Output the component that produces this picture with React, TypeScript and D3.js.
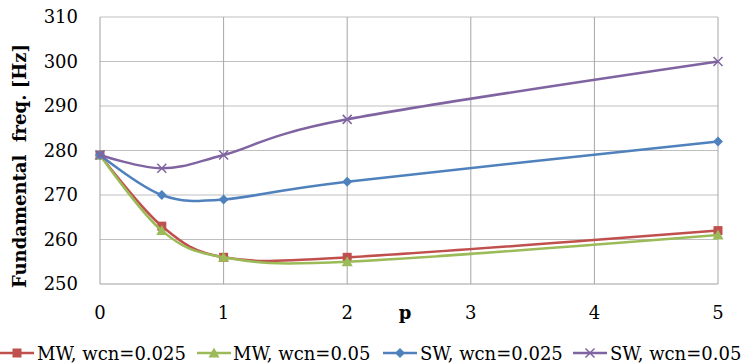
import React from "react";
import * as d3 from "d3";

const pValues = [0, 0.5, 1, 2, 5];
const mw025 = [279, 263, 256, 256, 262];
const mw05 = [279, 262, 256, 255, 261];
const sw025 = [279, 270, 269, 273, 282];
const sw05 = [279, 276, 279, 287, 300];
const seriesNames = ["MW, wcn=0.025", "MW, wcn=0.05", "SW, wcn=0.025", "SW, wcn=0.05"];
const xTicks = [0, 1, 2, 3, 4, 5];
const yTicks = [250, 260, 270, 280, 290, 300, 310];

const W = 745;
const H = 364;
const L = 100, R = 718, T = 17, B = 284;
const FONT = "'DejaVu Serif', serif";

const series = [
  { name: seriesNames[0], values: mw025, color: "#C0504D", marker: "square" },
  { name: seriesNames[1], values: mw05, color: "#9BBB59", marker: "triangle" },
  { name: seriesNames[2], values: sw025, color: "#4F81BD", marker: "diamond" },
  { name: seriesNames[3], values: sw05, color: "#8064A2", marker: "cross" },
];

function Marker({ type, x, y, color }: { type: string; x: number; y: number; color: string }) {
  if (type === "square") return <rect x={x - 4.5} y={y - 4.5} width={9} height={9} fill={color} />;
  if (type === "triangle")
    return <path d={`M${x},${y - 5.5}L${x + 5.5},${y + 4.5}L${x - 5.5},${y + 4.5}Z`} fill={color} />;
  if (type === "diamond")
    return <path d={`M${x},${y - 5}L${x + 5},${y}L${x},${y + 5}L${x - 5},${y}Z`} fill={color} />;
  return (
    <path d={`M${x - 4.5},${y - 4.5}L${x + 4.5},${y + 4.5}M${x - 4.5},${y + 4.5}L${x + 4.5},${y - 4.5}`} stroke={color} strokeWidth={1.5} fill="none" />
  );
}

export default function App() {
  const x = d3.scaleLinear().domain([0, 5]).range([L, R]);
  const y = d3.scaleLinear().domain([250, 310]).range([B, T]);
  const line = d3
    .line<number>()
    .x((_, i) => x(pValues[i]))
    .y((d) => y(d))
    .curve(d3.curveCardinal.tension(0));

  const legendItems = [
    { lx: 0, tx: 37 },
    { lx: 197, tx: 233 },
    { lx: 383, tx: 420 },
    { lx: 573, tx: 610 },
  ];

  return (
    <svg width={W} height={H} style={{ position: "absolute", left: 0, top: 0, background: "#fff" }}>
      <rect width={W} height={H} fill="#fff" />
      {yTicks.slice(1).map((t) => (
        <line key={"h" + t} x1={L} x2={R} y1={y(t)} y2={y(t)} stroke="#bfbfbf" strokeWidth={1} />
      ))}
      {xTicks.slice(1).map((t) => (
        <line key={"v" + t} x1={x(t)} x2={x(t)} y1={T} y2={B} stroke="#a6a6a6" strokeWidth={1} />
      ))}
      <line x1={L} x2={L} y1={T} y2={B} stroke="#a0a0a0" strokeWidth={1} />
      <line x1={L} x2={R} y1={B} y2={B} stroke="#a0a0a0" strokeWidth={1} />
      {yTicks.map((t) => (
        <text key={"yt" + t} x={78} y={y(t)} dy="0.35em" textAnchor="end" fontFamily={FONT} fontSize={18} fill="#000">
          {t}
        </text>
      ))}
      {xTicks.map((t) => (
        <text key={"xt" + t} x={x(t)} y={313} dy="0.35em" textAnchor="middle" fontFamily={FONT} fontSize={18} fill="#000">
          {t}
        </text>
      ))}
      <text x={405} y={313} dy="0.35em" textAnchor="middle" fontFamily={FONT} fontSize={18} fontWeight="bold">
        p
      </text>
      <text
        transform={`translate(20,166) rotate(-90)`}
        textAnchor="middle"
        dy="0.35em"
        fontFamily={FONT}
        fontSize={18}
        fontWeight="bold"
        style={{ whiteSpace: "pre" }}
      >
        {"Fundamental  freq. [Hz]"}
      </text>
      {series.map((s) => (
        <g key={s.name}>
          <path d={line(s.values) || ""} fill="none" stroke={s.color} strokeWidth={2.5} />
          {s.values.map((v, i) => (
            <Marker key={i} type={s.marker} x={x(pValues[i])} y={y(v)} color={s.color} />
          ))}
        </g>
      ))}
      {series.map((s, i) => (
        <g key={"lg" + s.name}>
          <line x1={legendItems[i].lx} x2={legendItems[i].lx + 34} y1={353} y2={353} stroke={s.color} strokeWidth={2.5} />
          <Marker type={s.marker} x={legendItems[i].lx + 17} y={353} color={s.color} />
          <text x={legendItems[i].tx} y={354} dy="0.35em" fontFamily={FONT} fontSize={18} fill="#000">
            {s.name}
          </text>
        </g>
      ))}
    </svg>
  );
}
